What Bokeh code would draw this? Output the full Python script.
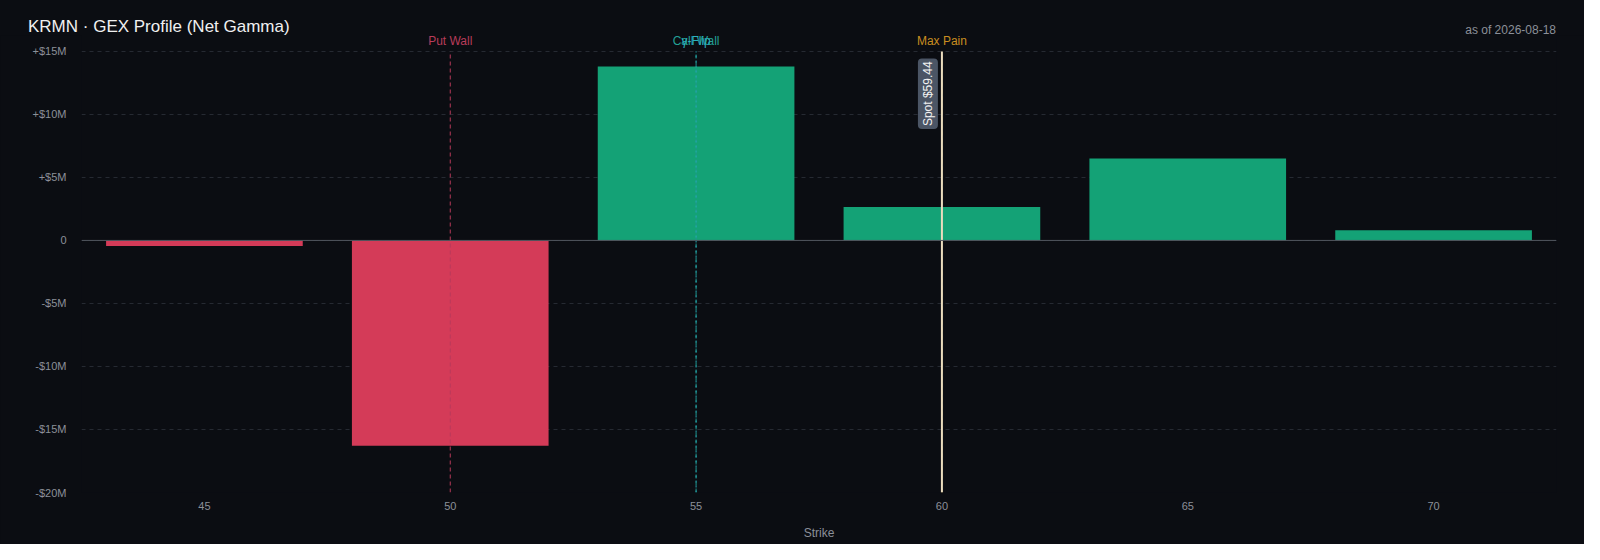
from bokeh.plotting import figure
from bokeh.layouts import column
from bokeh.models import (ColumnDataSource, Span, Label, FixedTicker, Div,
                          CustomJSTickFormatter, Range1d)
from bokeh.embed import file_html
from bokeh.resources import INLINE

# --- data ---
ticker_symbol = "KRMN"
as_of = "2026-08-18"
strikes = [45, 50, 55, 60, 65, 70]
net_gex = [-0.45e6, -16.3e6, 13.8e6, 2.65e6, 6.5e6, 0.8e6]
put_wall = 50
call_wall = 55
gamma_flip = 55
max_pain = 60
spot = 59.44
y_ticks = [-20e6, -15e6, -10e6, -5e6, 0, 5e6, 10e6, 15e6]

BG = "#0b0d12"
GREEN = "#14a276"
RED = "#d43b58"
FONT = "Liberation Sans"

colors = [GREEN if v >= 0 else RED for v in net_gex]
source = ColumnDataSource(data=dict(strike=strikes, gex=net_gex, color=colors))

# header (title + date) sits above the figure
header = Div(text=f"""
<div style="position:relative;width:1584px;height:35px;background:{BG};font-family:'{FONT}',sans-serif;">
  <span style="position:absolute;left:28px;top:17px;font-size:17px;line-height:20px;color:#f0f0f0;white-space:nowrap;">{ticker_symbol} · GEX Profile (Net Gamma)</span>
  <span style="position:absolute;right:28px;top:23px;font-size:12px;line-height:15px;color:#8b9099;white-space:nowrap;">as of {as_of}</span>
</div>""", width=1584, height=35, margin=0)

# the frame reaches a little above the top tick so the level names fit inside it
p = figure(width=1584, height=509, output_backend="svg", toolbar_location=None, tools="",
           x_range=Range1d(42.5, 72.5), y_range=Range1d(-20e6, 16.26e6), margin=0,
           min_border_left=81, min_border_right=28, min_border_top=0, min_border_bottom=52)
p.background_fill_alpha = 0
p.border_fill_color = BG
p.outline_line_color = None

p.vbar(x="strike", top="gex", width=4, color="color", source=source, line_color=None)

# zero line
p.add_layout(Span(location=0, dimension="width", line_color="#51555d", line_width=1))

# axes
p.xaxis.ticker = FixedTicker(ticks=strikes)
p.yaxis.ticker = FixedTicker(ticks=y_ticks)
p.yaxis.formatter = CustomJSTickFormatter(code="""
    if (tick == 0) return "0";
    const s = tick > 0 ? "+" : "-";
    return s + "$" + Math.round(Math.abs(tick) / 1e6) + "M";
""")
for ax in (p.xaxis[0], p.yaxis[0]):
    ax.axis_line_color = None
    ax.major_tick_line_color = None
    ax.minor_tick_line_color = None
    ax.major_label_text_color = "#8b9099"
    ax.major_label_text_font = FONT
    ax.major_label_text_font_size = "11px"
p.yaxis.major_label_standoff = 9
p.xaxis.major_label_standoff = 3
p.xaxis.axis_label = "Strike"
p.xaxis.axis_label_text_color = "#8b9099"
p.xaxis.axis_label_text_font = FONT
p.xaxis.axis_label_text_font_size = "12px"
p.xaxis.axis_label_text_font_style = "normal"
p.xaxis.axis_label_standoff = 13

p.xgrid.grid_line_color = None
p.ygrid.grid_line_color = "#262a32"
p.ygrid.grid_line_dash = "4 4"

# level lines: (strike, name, line colour, text colour, dash)
levels = [
    (put_wall, "Put Wall", "#b83a5a", "#b83c5a", "4 3"),
    (call_wall, "Call Wall", "#1f9890", "#23a096", "4 3"),
    (gamma_flip, "γ-Flip", "#26a9b5", "#2bb0be", "2 3"),
    (max_pain, "Max Pain", "#c48a1c", "#c98d20", "4 3"),
]
top = y_ticks[-1]
for x, name, lc, tc, dash in levels:
    p.segment(x0=[x], y0=[y_ticks[0]], x1=[x], y1=[top], line_color=lc,
              line_dash=dash, line_width=1)
    p.add_layout(Label(x=x, y=top, y_offset=10, text=name, text_align="center",
                       text_baseline="middle", text_color=tc, text_font=FONT,
                       text_font_size="12px"))

# spot line (snapped to the nearest listed strike) and rotated tag
spot_x = min(strikes, key=lambda s: abs(s - spot))
p.segment(x0=[spot_x], y0=[y_ticks[0]], x1=[spot_x], y1=[top],
          line_color="#eadcbf", line_width=2)
p.add_layout(Label(x=spot_x, y=top, x_offset=-4, y_offset=-7, angle=1.5708,
                   text=f"Spot ${spot:.2f}", text_align="right", text_baseline="bottom",
                   text_color="#f2f2f2", text_font=FONT, text_font_size="12px",
                   background_fill_color="#4b5565", background_fill_alpha=1,
                   border_radius=4, padding=3))

layout = column(header, p, spacing=0, margin=0, styles={"background-color": BG})

open("out.html", "w").write(file_html(layout, INLINE))
